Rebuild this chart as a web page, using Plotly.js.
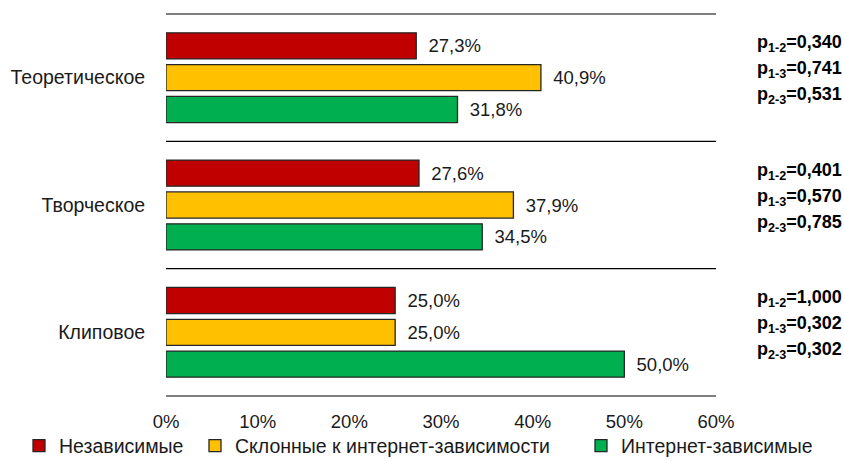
<!DOCTYPE html>
<html>
<head>
<meta charset="utf-8">
<script src="https://cdn.plot.ly/plotly-3.0.1.min.js"></script>
<style>html,body{margin:0;padding:0;background:#fff}#chart{width:844px;height:459px}</style>
</head>
<body>
<div id="chart"></div>
<script>
const categories = ['Теоретическое', 'Творческое', 'Клиповое'];
const seriesNames = ['Независимые', 'Склонные к интернет-зависимости', 'Интернет-зависимые'];
const independent = [27.3, 27.6, 25.0];
const prone = [40.9, 37.9, 25.0];
const dependent = [31.8, 34.5, 50.0];
const seriesColors = ['#C00000', '#FFC000', '#00B050'];
const pLabels = [
  ['1-2', '1-3', '2-3'],
  ['1-2', '1-3', '2-3'],
  ['1-2', '1-3', '2-3']
];
const pValues = [
  ['0,340', '0,741', '0,531'],
  ['0,401', '0,570', '0,785'],
  ['1,000', '0,302', '0,302']
];
const xTickVals = [0, 10, 20, 30, 40, 50, 60];
const xTickText = ['0%', '10%', '20%', '30%', '40%', '50%', '60%'];

const FONT = 'Liberation Sans, Arial, sans-serif';
const fmt = v => '\u2002' + v.toFixed(1).replace('.', ',') + '%';
const legendIds = ['legend', 'legend2', 'legend3'];
const legendX = [19, 195, 581];

const traces = [independent, prone, dependent].map((vals, i) => ({
  type: 'bar',
  orientation: 'h',
  name: seriesNames[i],
  legend: legendIds[i],
  y: categories,
  x: vals,
  text: vals.map(fmt),
  textposition: 'outside',
  cliponaxis: false,
  constraintext: 'none',
  textfont: {family: FONT, size: 18.5, color: '#1a1a1a'},
  marker: {color: seriesColors[i], line: {color: '#262626', width: 1.3}},
  hoverinfo: 'skip'
}));

const annotations = [];
categories.forEach((c, gi) => {
  pLabels[gi].forEach((lab, li) => {
    annotations.push({
      xref: 'paper', yref: 'y', x: 1.07, y: c,
      xanchor: 'left', yanchor: 'middle',
      yshift: 8 + (1 - li) * 26,
      showarrow: false,
      text: '<b>p<sub>' + lab + '</sub>=' + pValues[gi][li] + '</b>',
      font: {family: FONT, size: 18, color: '#000'}
    });
  });
});

const shapes = [0, 1/3, 2/3, 1].map(yy => ({
  type: 'line', xref: 'paper', yref: 'paper', x0: 0, x1: 1, y0: yy, y1: yy,
  line: {color: '#000', width: 1.2}
}));

const layout = {
  width: 844, height: 459,
  margin: {l: 166, r: 128, t: 14, b: 63, autoexpand: false},
  paper_bgcolor: '#fff', plot_bgcolor: '#fff',
  font: {family: FONT, size: 18, color: '#1a1a1a'},
  barmode: 'group',
  bargap: 0.25,
  bargroupgap: 0.18,
  showlegend: true,
  xaxis: {range: [0, 60], tickvals: xTickVals, ticktext: xTickText, showgrid: false, zeroline: false,
          showline: false, ticks: 'outside', ticklen: 9, tickcolor: 'rgba(0,0,0,0)',
          tickfont: {family: FONT, size: 18.5, color: '#1a1a1a'}, fixedrange: true},
  yaxis: {autorange: 'reversed', type: 'category', showgrid: false, zeroline: false, showline: false,
          ticks: 'outside', ticklen: 16, tickcolor: 'rgba(0,0,0,0)',
          tickfont: {family: FONT, size: 19.5, color: '#1a1a1a'}, fixedrange: true},
  shapes: shapes,
  annotations: annotations
};
legendIds.forEach((id, i) => {
  layout[id] = {orientation: 'h', x: legendX[i] / 844, xref: 'container', xanchor: 'left',
                y: 13 / 459, yref: 'container', yanchor: 'middle', bgcolor: 'rgba(0,0,0,0)',
                font: {family: FONT, size: 19.5, color: '#1a1a1a'}};
});

Plotly.newPlot('chart', traces, layout, {displayModeBar: false, staticPlot: true});
</script>
</body>
</html>
